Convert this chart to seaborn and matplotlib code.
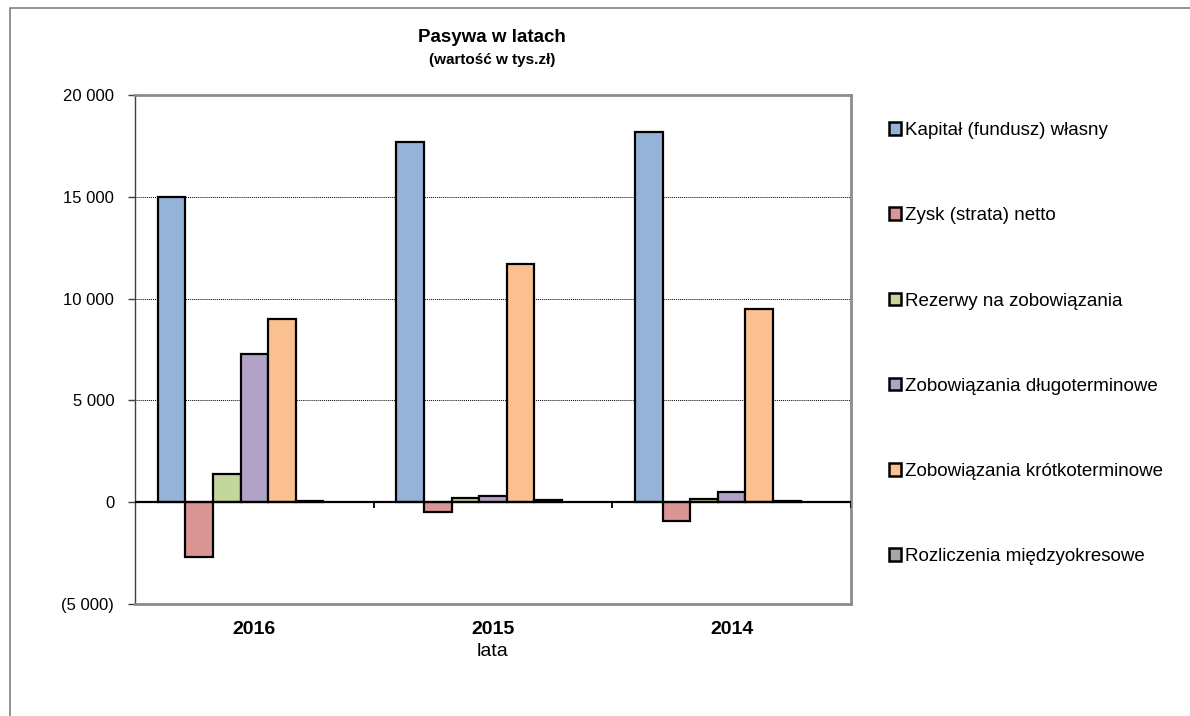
import pandas as pd
import matplotlib.pyplot as plt
import seaborn as sns
from matplotlib.patches import Patch, Rectangle
from matplotlib.ticker import FuncFormatter

# Values (tys. zł)
years = ["2016", "2015", "2014"]
series = [
    "Kapitał (fundusz) własny",
    "Zysk (strata) netto",
    "Rezerwy na zobowiązania",
    "Zobowiązania długoterminowe",
    "Zobowiązania krótkoterminowe",
    "Rozliczenia międzyokresowe",
]
kapital = [15000, 17700, 18200]
zysk = [-2700, -500, -900]
rezerwy = [1400, 200, 150]
dlugo = [7300, 300, 500]
krotko = [9000, 11700, 9500]
rozliczenia = [80, 100, 50]
colors = ["#95B3D7", "#D99694", "#C3D69B", "#B3A2C7", "#FAC090", "#A6A6A6"]

values = [kapital, zysk, rezerwy, dlugo, krotko, rozliczenia]
df = pd.DataFrame({
    "rok": years * len(series),
    "pozycja": [s for s in series for _ in years],
    "wartosc": [v for vals in values for v in vals],
})

sns.set_style("white")
plt.rcParams["font.family"] = ["Liberation Sans", "DejaVu Sans"]
plt.rcParams["text.color"] = "black"
plt.rcParams["axes.labelcolor"] = "black"
plt.rcParams["xtick.color"] = "black"
plt.rcParams["ytick.color"] = "black"

fig = plt.figure(figsize=(11.9, 7.16), dpi=100)
ax = fig.add_axes([135 / 1190, 1 - 604 / 716, (851 - 135) / 1190, (604 - 95) / 716])

# Excel reserves an empty 7th slot in each cluster
hue_order = series + [" "]
palette = dict(zip(series, colors))
palette[" "] = "white"

sns.barplot(
    data=df,
    x="rok",
    y="wartosc",
    hue="pozycja",
    hue_order=hue_order,
    palette=palette,
    order=years,
    width=0.81,
    edgecolor="black",
    linewidth=1.6,
    saturation=1,
    legend=False,
    ax=ax,
)

ax.set_ylim(-5000, 20000)
ax.set_xlim(-0.5, 2.5)
ax.set_yticks(range(-5000, 20001, 5000))
ax.yaxis.set_major_formatter(FuncFormatter(
    lambda v, p: f"({abs(int(v)):,})".replace(",", " ") if v < 0
    else f"{int(v):,}".replace(",", " ")
))

for y in [5000, 10000, 15000]:
    ax.axhline(y, color="black", linestyle=(0, (1, 1)), linewidth=0.7, zorder=0)

ax.axhline(0, color="black", linewidth=1.6, zorder=3)
ax.vlines([0.5, 1.5, 2.5], -300, 0, color="black", linewidth=1.3, zorder=3)

for side in ["top", "right", "bottom"]:
    ax.spines[side].set_color("#8C8C8C")
    ax.spines[side].set_linewidth(2)
ax.spines["left"].set_color("#404040")
ax.spines["left"].set_linewidth(1)

ax.tick_params(axis="y", which="major", direction="out", length=5, width=1,
               color="#404040", left=True, labelsize=12, pad=10)
ax.tick_params(axis="x", length=0, pad=12)
for lbl in ax.get_xticklabels():
    lbl.set_fontweight("bold")
    lbl.set_fontsize(14)

ax.set_ylabel("")
ax.set_xlabel("lata", fontsize=14, labelpad=4)

fig.text(492 / 1190, 1 - 38 / 716, "Pasywa w latach", ha="center", va="center",
         fontsize=13.5, fontweight="bold")
fig.text(492 / 1190, 1 - 60 / 716, "(wartość w tys.zł)", ha="center", va="center",
         fontsize=11, fontweight="bold")

handles = [Patch(facecolor=c, edgecolor="black", linewidth=1.8) for c in colors]
fig.legend(
    handles, series,
    loc="upper left",
    bbox_to_anchor=(889 / 1190, 1 - 122 / 716),
    frameon=False,
    fontsize=13.5,
    handlelength=0.65,
    handleheight=0.65,
    handletextpad=0.2,
    labelspacing=3.64,
    borderpad=0,
    borderaxespad=0,
)

# outer chart frame
fig.patches.append(Rectangle((10 / 1190, -0.1), 1.2, 1.1 - 8 / 716,
                             transform=fig.transFigure, fill=False,
                             edgecolor="#808080", linewidth=1.2))

fig.savefig("out.png", dpi=100)
